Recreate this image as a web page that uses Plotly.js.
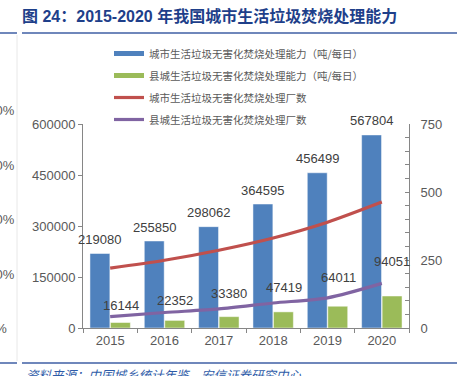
<!DOCTYPE html>
<html>
<head>
<meta charset="utf-8">
<script src="https://cdn.plot.ly/plotly-3.0.1.min.js"></script>
<style>html,body{margin:0;padding:0;background:#fff;}#chart{width:466px;height:376px;}</style>
</head>
<body>
<div id="chart"></div>
<script>
// ---- data ----
const years = ['2015', '2016', '2017', '2018', '2019', '2020'];
const urbanCapacity = [219080, 255850, 298062, 364595, 456499, 567804];   // 吨/每日
const countyCapacity = [16144, 22352, 33380, 47419, 64011, 94051];        // 吨/每日
const urbanPlants = [220, 249, 286, 331, 389, 463];
const countyPlants = [42, 57, 70, 92, 111, 164];
const seriesNames = [
  '城市生活垃圾无害化焚烧处理能力（吨/每日）',
  '县城生活垃圾无害化焚烧处理能力（吨/每日）',
  '城市生活垃圾无害化焚烧处理厂数',
  '县城生活垃圾无害化焚烧处理厂数'
];
const titleText = '图 24：2015-2020 年我国城市生活垃圾焚烧处理能力';
const sourceText = '资料来源：中国城乡统计年鉴，安信证券研究中心';

// ---- styles ----
const C_BLUE = '#4F81BD', C_GREEN = '#9BBB59', C_RED = '#C0504D', C_PURPLE = '#8064A2';
const GREY = '#595959', AXIS = '#868686';
const NUM_FONT = 'Liberation Sans, Arial, sans-serif';
const CJK_FONT = 'Liberation Sans, Noto Sans CJK SC, sans-serif';
const countyLabelLift = [17, 20, 23, 24, 29, 35];

// plot area in pixels: x 83..409, y 124..328
const PL = 83, PW = 326, PB = 328, PH = 204;
const toPX = x => (x - PL) / PW;
const toPY = y => (PB - y) / PH;

const traces = [
  // legend swatches for the bars (thick lines, no points drawn)
  {type: 'scatter', mode: 'lines', x: [0], y: [null], name: seriesNames[0],
   line: {color: C_BLUE, width: 5}, hoverinfo: 'skip', legendgroup: 'a'},
  {type: 'scatter', mode: 'lines', x: [0], y: [null], name: seriesNames[1],
   line: {color: C_GREEN, width: 5}, hoverinfo: 'skip', legendgroup: 'b'},
  {type: 'bar', x: years, y: urbanCapacity, name: seriesNames[0], showlegend: false,
   marker: {color: C_BLUE, line: {color: 'rgba(255,255,255,0.6)', width: 0.8}}},
  {type: 'bar', x: years, y: countyCapacity, name: seriesNames[1], showlegend: false,
   marker: {color: C_GREEN, line: {color: 'rgba(255,255,255,0.6)', width: 0.8}}},
  {type: 'scatter', mode: 'lines', x: years, y: urbanPlants, yaxis: 'y2', name: seriesNames[2],
   line: {color: C_RED, width: 3.2, shape: 'spline', smoothing: 0.8}, legendgroup: 'c'},
  {type: 'scatter', mode: 'lines', x: years, y: countyPlants, yaxis: 'y2', name: seriesNames[3],
   line: {color: C_PURPLE, width: 3.2, shape: 'spline', smoothing: 0.8}, legendgroup: 'd'}
];

const annotations = [];
years.forEach((yr, i) => {
  annotations.push({x: i, y: urbanCapacity[i], xref: 'x', yref: 'y', text: String(urbanCapacity[i]),
    showarrow: false, xshift: -10.5, yshift: 14, xanchor: 'center', yanchor: 'middle',
    font: {family: NUM_FONT, size: 13, color: '#404040'}});
  annotations.push({x: i, y: countyCapacity[i], xref: 'x', yref: 'y', text: String(countyCapacity[i]),
    showarrow: false, xshift: 10.5, yshift: countyLabelLift[i], xanchor: 'center', yanchor: 'middle',
    font: {family: NUM_FONT, size: 13, color: '#404040'}});
});
// clipped remnants of a neighbouring axis at the left edge
const remnantY = [110, 165, 219, 274];
remnantY.forEach(y => annotations.push({xref: 'paper', yref: 'paper', x: toPX(16.5), y: toPY(y),
  xanchor: 'right', yanchor: 'middle', text: '100%', showarrow: false,
  font: {family: NUM_FONT, size: 13, color: GREY}}));
annotations.push({xref: 'paper', yref: 'paper', x: toPX(9), y: toPY(328), xanchor: 'right', yanchor: 'middle',
  text: '0%', showarrow: false, font: {family: NUM_FONT, size: 13, color: GREY}});
// source line
annotations.push({xref: 'paper', yref: 'paper', x: toPX(24), y: toPY(374), xanchor: 'left', yanchor: 'middle',
  text: '<i>' + sourceText + '</i>', showarrow: false,
  font: {family: 'Noto Sans CJK SC, sans-serif', size: 12.5, color: '#2E5BA8'}});

const lineBlue = '#3F5FA5';
const shapes = [
  {type: 'line', xref: 'paper', yref: 'paper', x0: toPX(17), x1: toPX(17), y0: toPY(35), y1: toPY(361),
   line: {color: '#E8E8E8', width: 1}},
  {type: 'line', xref: 'paper', yref: 'paper', x0: toPX(0), x1: toPX(17), y0: toPY(33), y1: toPY(33), line: {color: lineBlue, width: 1.5}},
  {type: 'line', xref: 'paper', yref: 'paper', x0: toPX(22), x1: toPX(457), y0: toPY(33), y1: toPY(33), line: {color: lineBlue, width: 1.5}},
  {type: 'line', xref: 'paper', yref: 'paper', x0: toPX(0), x1: toPX(17), y0: toPY(363), y1: toPY(363), line: {color: lineBlue, width: 1.5}},
  {type: 'line', xref: 'paper', yref: 'paper', x0: toPX(22), x1: toPX(457), y0: toPY(363), y1: toPY(363), line: {color: lineBlue, width: 1.5}}
];

const layout = {
  width: 466, height: 376,
  margin: {l: PL, r: 466 - PL - PW, t: PB - PH, b: 376 - PB, pad: 0},
  paper_bgcolor: '#fff', plot_bgcolor: '#fff',
  title: {text: titleText, xref: 'container', yref: 'container', x: 22 / 466, xanchor: 'left',
    y: 1 - 16 / 376, yanchor: 'middle',
    font: {family: CJK_FONT, size: 16, color: '#1E3F8A', weight: 'bold'}},
  barmode: 'group', bargap: 0.245, bargroupgap: 0.03,
  showlegend: true,
  legend: {x: toPX(109), y: toPY(39), xanchor: 'left', yanchor: 'top', traceorder: 'grouped',
    tracegroupgap: 3, bgcolor: 'rgba(0,0,0,0)',
    font: {family: 'Noto Sans CJK SC, sans-serif', size: 10.5, color: GREY}},
  xaxis: {type: 'category', categoryorder: 'array', categoryarray: years, range: [-0.5, 5.5],
    autorange: false, tickson: 'boundaries', ticks: 'outside', ticklen: 4, tickcolor: AXIS,
    showline: true, linecolor: AXIS, linewidth: 1, showgrid: false, zeroline: false,
    tickfont: {family: NUM_FONT, size: 13, color: GREY}},
  yaxis: {range: [0, 600000], autorange: false, tickvals: [0, 150000, 300000, 450000, 600000], ticks: 'outside', ticklen: 4,
    tickcolor: AXIS, showline: true, linecolor: AXIS, linewidth: 1, showgrid: false, zeroline: false,
    tickformat: 'd', tickfont: {family: NUM_FONT, size: 13, color: GREY}},
  yaxis2: {overlaying: 'y', side: 'right', range: [0, 750], autorange: false, tickvals: [0, 250, 500, 750],
    ticks: 'inside', ticklen: 4, tickcolor: AXIS, showline: true, linecolor: AXIS, linewidth: 1,
    showgrid: false, zeroline: false, ticklabelstandoff: 8,
    minor: {ticks: 'inside', dtick: 50, ticklen: 4, tickcolor: AXIS},
    tickfont: {family: NUM_FONT, size: 13, color: GREY}},
  annotations: annotations,
  shapes: shapes
};

Plotly.newPlot('chart', traces, layout, {staticPlot: true, displayModeBar: false});
</script>
</body>
</html>
